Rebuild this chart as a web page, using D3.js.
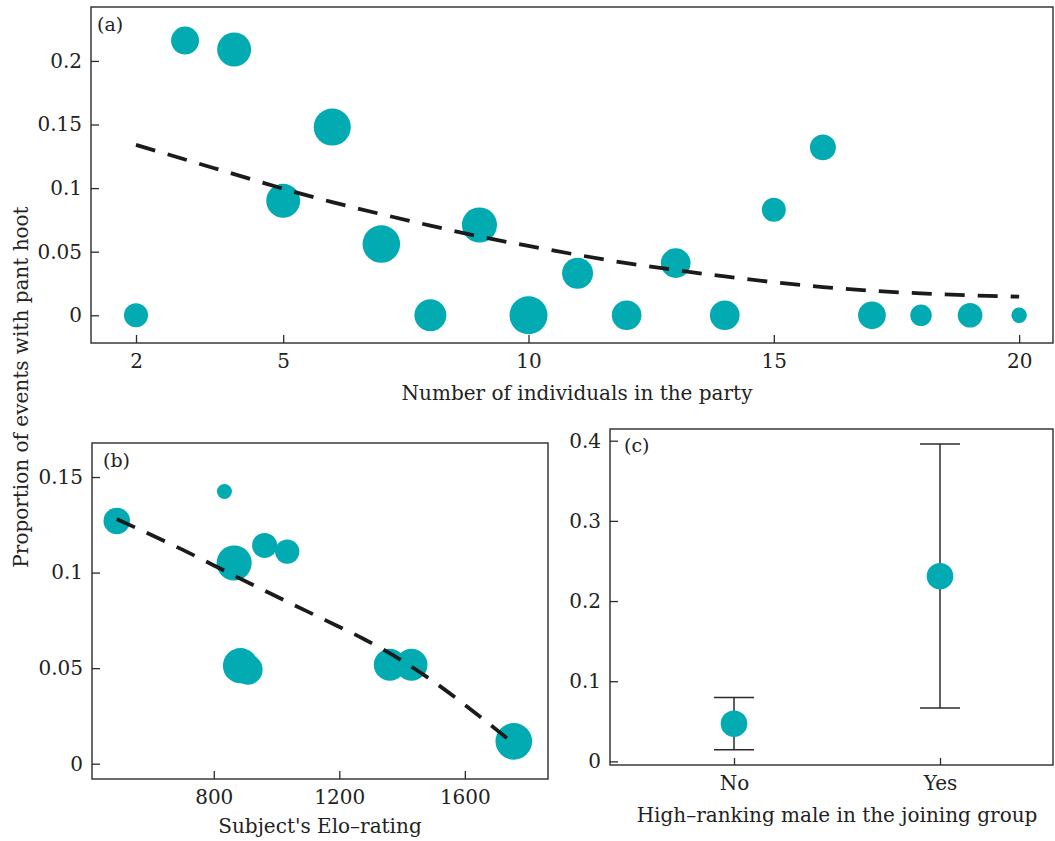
<!DOCTYPE html>
<html>
<head>
<meta charset="utf-8">
<script src="https://cdn.jsdelivr.net/npm/d3@7"></script>
<style>
  body { margin: 0; background: #fff; }
  text { font-family: "DejaVu Serif", serif; fill: #222; }
</style>
</head>
<body>
<svg id="chart" width="1055" height="841"></svg>
<script>
// panel (a): party size
var partySize = [2, 3, 4, 5, 6, 7, 8, 9, 10, 11, 12, 13, 14, 15, 16, 17, 18, 19, 20];
var partyProp = [0, 0.216, 0.209, 0.090, 0.148, 0.056, 0, 0.071, 0, 0.033, 0, 0.041, 0, 0.083, 0.132, 0, 0, 0, 0];
var partyEvents = [36, 49, 72, 72, 86, 88, 64, 77, 90, 60, 55, 55, 55, 36, 42, 48, 29, 38, 15];
var partyFit = [0.134, 0.1225, 0.111, 0.0995, 0.089, 0.0795, 0.0705, 0.062, 0.0545, 0.0475, 0.041, 0.0355, 0.0305, 0.026, 0.0222, 0.0193, 0.0172, 0.0157, 0.0146];

// panel (b): Elo rating
var eloRating = [491, 834, 865, 962, 1034, 908, 885, 1361, 1430, 1756];
var eloProp = [0.127, 0.1424, 0.105, 0.1142, 0.111, 0.0492, 0.0513, 0.0518, 0.0518, 0.0117];
var eloEvents = [44, 14, 77, 39, 37, 56, 77, 64, 64, 84];
var eloFitX = [491, 700, 858, 1031, 1157, 1281, 1399, 1500, 1622, 1737];
var eloFitY = [0.128, 0.112, 0.099, 0.085, 0.075, 0.065, 0.054, 0.043, 0.028, 0.013];

// panel (c): high-ranking male
var maleCats = ["No", "Yes"];
var maleMean = [0.047, 0.231];
var maleLow = [0.0146, 0.0666];
var maleHigh = [0.0798, 0.3958];

var teal = "#02aab2";
var ink = "#2b2b2b";

var svg = d3.select("#chart");
var rScale = d3.scaleSqrt().domain([0, 100]).range([0, 20]);
var fmt = function(d) { return d === 0 ? "0" : String(d); };

var frame = function(x0, y0, x1, y1) {
  svg.append("rect")
    .attr("x", x0).attr("y", y0)
    .attr("width", x1 - x0).attr("height", y1 - y0)
    .attr("fill", "none").attr("stroke", ink).attr("stroke-width", 1.4);
};

var styleAxis = function(g) {
  g.select(".domain").remove();
  g.selectAll(".tick line").attr("stroke", ink).attr("stroke-width", 1.3);
  g.selectAll(".tick text").attr("fill", "#222").style("font-size", "20px")
    .style("font-family", "'DejaVu Serif', serif");
};

var dashed = function(pts, xs, ys) {
  svg.append("path")
    .datum(pts)
    .attr("fill", "none")
    .attr("stroke", "#1b1b1b")
    .attr("stroke-width", 3.8)
    .attr("stroke-dasharray", "20,13")
    .attr("d", d3.line()
      .curve(d3.curveMonotoneX)
      .x(function(d) { return xs(d[0]); })
      .y(function(d) { return ys(d[1]); }));
};

// ---------- (a) ----------
var xA = d3.scaleLinear().domain([1.083, 20.69]).range([91, 1053]);
var yA = d3.scaleLinear().domain([-0.0218, 0.2424]).range([343, 7]);

frame(91, 7, 1053, 343);

svg.append("g").attr("transform", "translate(91,0)")
  .call(d3.axisLeft(yA).tickValues([0, 0.05, 0.1, 0.15, 0.2]).tickFormat(fmt)
    .tickSizeInner(-8).tickSizeOuter(0).tickPadding(9))
  .call(styleAxis);

svg.append("g").attr("transform", "translate(0,343)")
  .call(d3.axisBottom(xA).tickValues([2, 5, 10, 15, 20]).tickFormat(fmt)
    .tickSizeInner(-8).tickSizeOuter(0).tickPadding(11))
  .call(styleAxis);

svg.append("g").selectAll("circle")
  .data(partySize)
  .enter()
  .append("circle")
  .attr("cx", function(d) { return xA(d); })
  .attr("cy", function(d, i) { return yA(partyProp[i]); })
  .attr("r", function(d, i) { return rScale(partyEvents[i]); })
  .attr("fill", teal);

dashed(partySize.map(function(d, i) { return [d, partyFit[i]]; }), xA, yA);

svg.append("text").attr("x", 97).attr("y", 31).style("font-size", "19px").text("(a)");
svg.append("text").attr("x", 577).attr("y", 400).attr("text-anchor", "middle")
  .style("font-size", "20px").text("Number of individuals in the party");

// ---------- (b) ----------
var xB = d3.scaleLinear().domain([412, 1865]).range([92, 548]);
var yB = d3.scaleLinear().domain([-0.008, 0.1678]).range([779, 443]);

frame(92, 443, 548, 779);

svg.append("g").attr("transform", "translate(92,0)")
  .call(d3.axisLeft(yB).tickValues([0, 0.05, 0.1, 0.15]).tickFormat(fmt)
    .tickSizeInner(-8).tickSizeOuter(0).tickPadding(9))
  .call(styleAxis);

svg.append("g").attr("transform", "translate(0,779)")
  .call(d3.axisBottom(xB).tickValues([800, 1200, 1600]).tickFormat(fmt)
    .tickSizeInner(-8).tickSizeOuter(0).tickPadding(11))
  .call(styleAxis);

svg.append("g").selectAll("circle")
  .data(eloRating)
  .enter()
  .append("circle")
  .attr("cx", function(d) { return xB(d); })
  .attr("cy", function(d, i) { return yB(eloProp[i]); })
  .attr("r", function(d, i) { return rScale(eloEvents[i]); })
  .attr("fill", teal);

dashed(eloFitX.map(function(d, i) { return [d, eloFitY[i]]; }), xB, yB);

svg.append("text").attr("x", 103).attr("y", 467).style("font-size", "19px").text("(b)");
svg.append("text").attr("x", 320).attr("y", 833).attr("text-anchor", "middle")
  .style("font-size", "20px").text("Subject's Elo\u2013rating");

// ---------- (c) ----------
var xC = d3.scalePoint().domain(maleCats).range([734, 940]);
var yC = d3.scaleLinear().domain([-0.0045, 0.4146]).range([765, 429]);

frame(610, 429, 1053, 765);

svg.append("g").attr("transform", "translate(610,0)")
  .call(d3.axisLeft(yC).tickValues([0, 0.1, 0.2, 0.3, 0.4]).tickFormat(fmt)
    .tickSizeInner(-8).tickSizeOuter(0).tickPadding(9))
  .call(styleAxis);

svg.append("g").attr("transform", "translate(0,765)")
  .call(d3.axisBottom(xC).tickSizeInner(-7).tickSizeOuter(0).tickPadding(11))
  .call(styleAxis);

var bars = svg.append("g").selectAll("g")
  .data(maleCats)
  .enter()
  .append("g");

bars.append("line")
  .attr("x1", function(d) { return xC(d); })
  .attr("x2", function(d) { return xC(d); })
  .attr("y1", function(d, i) { return yC(maleLow[i]); })
  .attr("y2", function(d, i) { return yC(maleHigh[i]); })
  .attr("stroke", ink).attr("stroke-width", 1.5);

[maleLow, maleHigh].forEach(function(arr) {
  bars.append("line")
    .attr("x1", function(d) { return xC(d) - 20; })
    .attr("x2", function(d) { return xC(d) + 20; })
    .attr("y1", function(d, i) { return yC(arr[i]); })
    .attr("y2", function(d, i) { return yC(arr[i]); })
    .attr("stroke", ink).attr("stroke-width", 1.5);
});

bars.append("circle")
  .attr("cx", function(d) { return xC(d); })
  .attr("cy", function(d, i) { return yC(maleMean[i]); })
  .attr("r", 13.3)
  .attr("fill", teal);

svg.append("text").attr("x", 624).attr("y", 452).style("font-size", "19px").text("(c)");
svg.append("text").attr("x", 837).attr("y", 822).attr("text-anchor", "middle")
  .style("font-size", "20px").text("High\u2013ranking male in the joining group");

// shared y title
svg.append("text")
  .attr("transform", "translate(28,387) rotate(-90)")
  .attr("text-anchor", "middle")
  .style("font-size", "20px")
  .text("Proportion of events with pant hoot");
</script>
</body>
</html>
